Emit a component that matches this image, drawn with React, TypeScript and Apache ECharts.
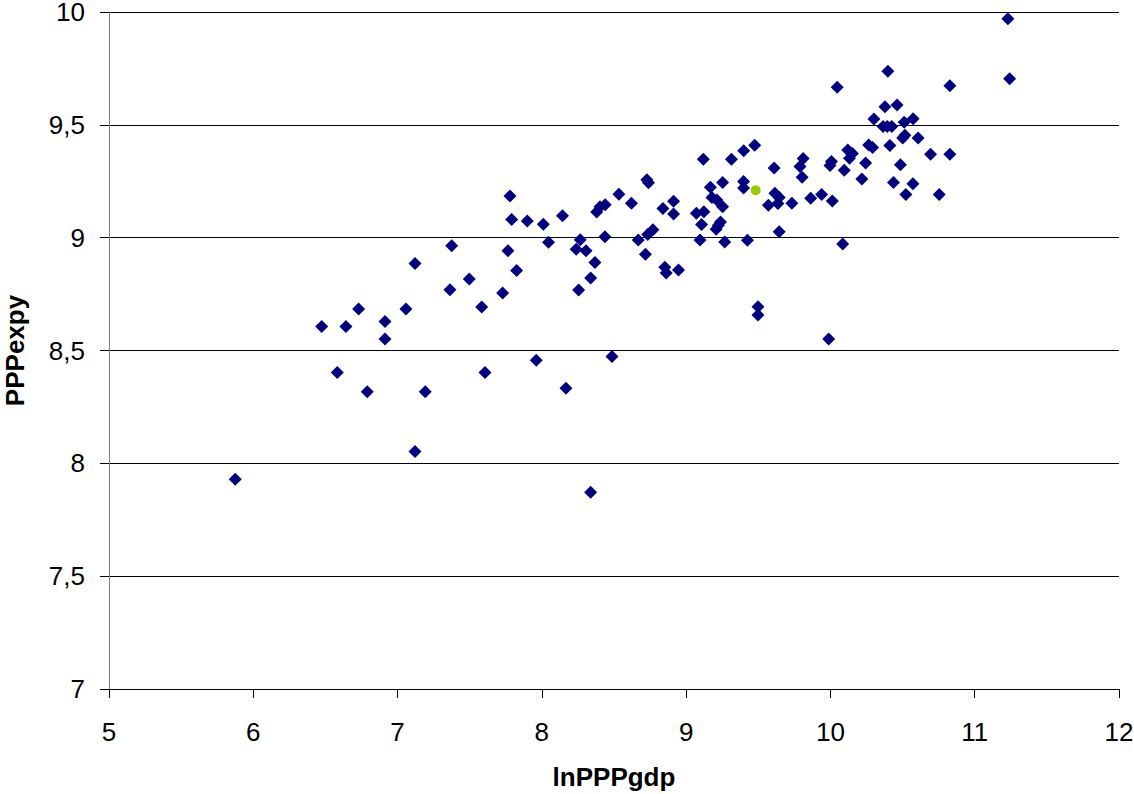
import React, { useEffect, useRef } from "react";
import * as echarts from "echarts";

// Country points: [lnPPPgdp, PPPexpy]
const countryPoints: number[][] = [
  [5.875, 7.93], [6.474, 8.606], [6.582, 8.403], [6.642, 8.606], [6.73, 8.684],
  [6.79, 8.317], [6.913, 8.629], [6.913, 8.551], [7.058, 8.684], [7.121, 8.886],
  [7.121, 8.052], [7.192, 8.317], [7.375, 8.964], [7.363, 8.769], [7.497, 8.817],
  [7.583, 8.693], [7.606, 8.403], [7.728, 8.755], [7.765, 8.942], [7.779, 9.185],
  [7.791, 9.081], [7.825, 8.855], [7.899, 9.074], [7.961, 8.457], [8.01, 9.059],
  [8.046, 8.98], [8.143, 9.097], [8.167, 8.333], [8.266, 8.991], [8.238, 8.949],
  [8.306, 8.942], [8.368, 8.89], [8.338, 8.821], [8.255, 8.768], [8.338, 7.872],
  [8.38, 9.114], [8.403, 9.137], [8.439, 9.146], [8.437, 9.004], [8.486, 8.473],
  [8.534, 9.192], [8.621, 9.152], [8.668, 8.99], [8.718, 8.926], [8.728, 9.257],
  [8.739, 9.243], [8.734, 9.014], [8.77, 9.035], [8.839, 9.129], [8.913, 9.161],
  [8.913, 9.105], [8.852, 8.869], [8.862, 8.843], [8.947, 8.857], [9.071, 9.108],
  [9.123, 9.115], [9.107, 9.058], [9.096, 8.99], [9.119, 9.347], [9.168, 9.223],
  [9.179, 9.178], [9.213, 9.167], [9.253, 9.245], [9.253, 9.137], [9.238, 9.069],
  [9.222, 9.054], [9.208, 9.037], [9.267, 8.981], [9.314, 9.347], [9.399, 9.385],
  [9.475, 9.41], [9.398, 9.249], [9.398, 9.22], [9.425, 8.989], [9.498, 8.694],
  [9.498, 8.657], [9.61, 9.309], [9.615, 9.197], [9.57, 9.144], [9.645, 9.178],
  [9.636, 9.151], [9.645, 9.026], [9.733, 9.152], [9.811, 9.351], [9.789, 9.315],
  [9.804, 9.268], [9.863, 9.175], [9.939, 9.191], [10.007, 9.338], [9.997, 9.32],
  [10.013, 9.163], [10.047, 9.666], [10.085, 8.972], [9.988, 8.551], [10.096, 9.299],
  [10.12, 9.389], [10.152, 9.373], [10.132, 9.352], [10.218, 9.26], [10.244, 9.331],
  [10.265, 9.411], [10.292, 9.4], [10.301, 9.526], [10.365, 9.493], [10.394, 9.493],
  [10.425, 9.493], [10.378, 9.58], [10.462, 9.588], [10.398, 9.737], [10.412, 9.408],
  [10.437, 9.245], [10.485, 9.323], [10.501, 9.442], [10.516, 9.454], [10.511, 9.511],
  [10.523, 9.191], [10.573, 9.527], [10.572, 9.239], [10.608, 9.442], [10.694, 9.37],
  [10.754, 9.191], [10.828, 9.37], [10.828, 9.673], [11.23, 9.97], [11.242, 9.704],
];

// Highlighted point
const highlightPoints: number[][] = [[9.482, 9.21]];

const xTitle = "lnPPPgdp";
const yTitle = "PPPexpy";

const FONT = "'Liberation Sans', Arial, sans-serif";

export default function App() {
  const ref = useRef<HTMLDivElement>(null);

  useEffect(() => {
    if (!ref.current) return;
    const chart = echarts.init(ref.current, undefined, { renderer: "svg" });
    chart.setOption({
      animation: false,
      backgroundColor: "#ffffff",
      grid: {
        left: 109,
        right: 15,
        top: 12,
        bottom: 105,
        containLabel: false,
        outerBoundsMode: "none",
      },
      xAxis: {
        type: "value",
        min: 5,
        max: 12,
        interval: 1,
        name: xTitle,
        nameLocation: "middle",
        nameGap: 75,
        nameTextStyle: { fontFamily: FONT, fontSize: 26, fontWeight: "bold", color: "#000" },
        axisLine: { show: true, onZero: false, lineStyle: { color: "#000", width: 1 } },
        axisTick: { show: true, length: 9, lineStyle: { color: "#000" } },
        axisLabel: { fontFamily: FONT, fontSize: 26, color: "#000", margin: 30 },
        splitLine: { show: false },
      },
      yAxis: {
        type: "value",
        min: 7,
        max: 10,
        interval: 0.5,
        name: yTitle,
        nameLocation: "middle",
        nameGap: 81,
        nameRotate: 90,
        nameTextStyle: { fontFamily: FONT, fontSize: 26, fontWeight: "bold", color: "#000" },
        axisLine: { show: true, onZero: false, lineStyle: { color: "#808080", width: 1 } },
        axisTick: { show: true, length: 9, lineStyle: { color: "#000" } },
        axisLabel: {
          fontFamily: FONT,
          fontSize: 26,
          lineHeight: 22,
          color: "#000",
          margin: 24,
          formatter: (v: number) => String(v).replace(".", ","),
        },
        splitLine: { show: true, lineStyle: { color: "#000", width: 1 } },
      },
      series: [
        {
          type: "scatter",
          data: countryPoints,
          symbol: "diamond",
          symbolSize: 13,
          itemStyle: { color: "#000080", opacity: 1 },
        },
        {
          type: "scatter",
          data: highlightPoints,
          symbol: "circle",
          symbolSize: 10,
          itemStyle: { color: "#99CC00", opacity: 1 },
          z: 3,
        },
      ],
    });
    return () => chart.dispose();
  }, []);

  return (
    <div
      ref={ref}
      style={{ position: "fixed", left: 0, top: 0, width: 1134, height: 794, background: "#fff" }}
    />
  );
}
